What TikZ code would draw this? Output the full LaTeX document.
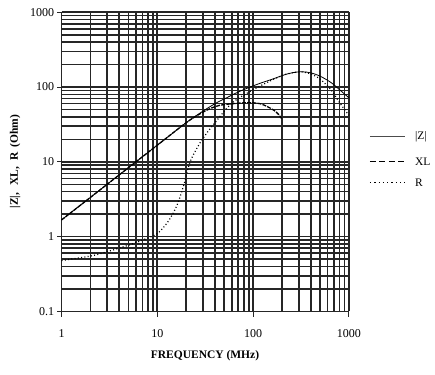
\documentclass[tikz,border=0pt]{standalone}
\usepackage{fontspec}
\setmainfont{Liberation Serif}
\begin{document}
\begin{tikzpicture}[x=95.8pt,y=74.8pt,
  grid/.style={line width=1.6pt,draw=black!85},
  tick/.style={line width=1pt,draw=black!85},
  ticklab/.style={font=\fontsize{12}{14}\selectfont,inner sep=0pt},
  axtitle/.style={font=\fontsize{11.5}{13}\selectfont\bfseries,inner sep=0pt},
  leglab/.style={font=\fontsize{11.5}{13}\selectfont,inner sep=0pt,anchor=west},
  zcurve/.style={line width=0.8pt,black},
  xlcurve/.style={line width=1.3pt,black,dash pattern=on 4pt off 1.2pt},
  rcurve/.style={line width=1.2pt,black,dash pattern=on 1pt off 2.3pt}]
\useasboundingbox (-0.642,-1.849) rectangle (3.899,3.164);
% grid
\foreach \d in {0,1,2}{
  \foreach \k in {1,...,9}{
    \draw[grid] ({\d+log10(\k)},-1) -- ({\d+log10(\k)},3);
  }
}
\draw[grid] (3,-1) -- (3,3);
\foreach \d in {-1,0,1,2}{
  \foreach \k in {1,...,9}{
    \draw[grid] (0,{\d+log10(\k)}) -- (3,{\d+log10(\k)});
  }
}
\draw[grid] (0,3) -- (3,3);
% ticks
\foreach \d in {-1,0,1,2,3}{
  \draw[tick] (-0.045,\d) -- (0,\d);
}
\foreach \d in {0,1,2,3}{
  \draw[tick] (\d,-1) -- (\d,-1.075);
}
% tick labels
\node[ticklab,anchor=east] (y3) at (-0.075,3) {1000};
\node[ticklab,anchor=east] (y2) at (-0.075,2) {100};
\node[ticklab,anchor=east] (y1) at (-0.075,1) {10};
\node[ticklab,anchor=east] (y0) at (-0.075,0) {1};
\node[ticklab,anchor=east] (ym) at (-0.075,-1) {0.1};
\node[ticklab] (x0) at (0,-1.29) {1};
\node[ticklab] (x1) at (1,-1.29) {10};
\node[ticklab] (x2) at (2,-1.29) {100};
\node[ticklab] (x3) at (3,-1.29) {1000};
% axis titles
\node[axtitle] (xt) at (1.498,-1.59) {FREQUENCY (MHz)};
\node[axtitle,rotate=90] (yt) at (-0.485,1.005) {|Z|,\hspace{0.6em}XL,\hspace{0.6em}R\hspace{0.4em}(Ohm)};
% curves
\draw[zcurve] plot[smooth,tension=0.5] coordinates {
 (0,0.223) (1,1.223) (1.301,1.523) (1.447,1.653) (1.602,1.778) (1.724,1.857)
 (1.845,1.934) (1.968,2.0) (2.079,2.053) (2.204,2.107) (2.342,2.170) (2.447,2.199)
 (2.519,2.204) (2.602,2.190) (2.699,2.146) (2.813,2.061) (2.903,1.964) (3,1.857)};
\draw[xlcurve] plot[smooth,tension=0.5] coordinates {
 (0,0.223) (1,1.223) (1.301,1.523) (1.447,1.643) (1.544,1.708) (1.653,1.756)
 (1.792,1.778) (1.954,1.792) (2.072,1.778) (2.146,1.740) (2.217,1.690)
 (2.267,1.633) (2.297,1.580)};
\draw[rcurve] plot[smooth,tension=0.5] coordinates {
 (0,-0.319) (0.301,-0.260) (0.477,-0.201) (0.699,-0.114) (0.845,-0.046) (1,0.041)
 (1.114,0.204) (1.204,0.415) (1.279,0.699) (1.342,1.0) (1.447,1.255) (1.544,1.431)
 (1.623,1.556) (1.724,1.716) (1.813,1.820) (1.903,1.892) (2,1.964) (2.114,2.041)
 (2.230,2.114) (2.342,2.170) (2.447,2.199) (2.519,2.201) (2.602,2.176) (2.699,2.107)
 (2.813,1.964) (2.903,1.792) (3,1.623)};
% legend
\coordinate (lz1) at (3.22,1.337); \coordinate (lz2) at (3.585,1.337);
\coordinate (lx1) at (3.22,1.003); \coordinate (lx2) at (3.585,1.003);
\coordinate (lr1) at (3.22,0.722); \coordinate (lr2) at (3.585,0.722);
\draw[line width=0.7pt,black!70] (lz1) -- (lz2);
\draw[line width=1.5pt,black,dash pattern=on 6pt off 3.5pt] (lx1) -- (lx2);
\draw[line width=1.4pt,black,dash pattern=on 1.3pt off 3pt] (lr1) -- (lr2);
\node[leglab] (lz) at (3.69,1.337) {|Z|};
\node[leglab] (lx) at (3.69,1.003) {XL};
\node[leglab] (lr) at (3.69,0.722) {R};
\end{tikzpicture}
\end{document}
